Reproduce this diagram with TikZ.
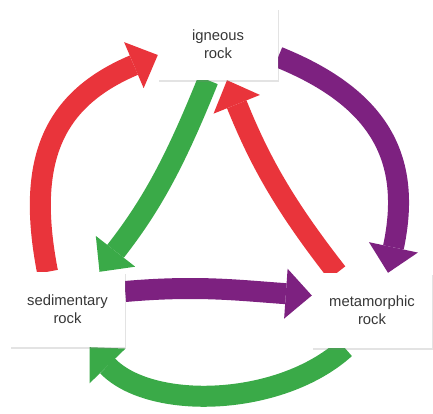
\documentclass[tikz,border=0pt]{standalone}
\usepackage{fontspec}
\setmainfont{Liberation Sans}
\definecolor{rockred}{RGB}{233, 52, 59}
\definecolor{rockpurple}{RGB}{125, 33, 128}
\definecolor{rockgreen}{RGB}{58, 170, 72}
\definecolor{rocktext}{RGB}{55, 55, 55}
\usetikzlibrary{arrows.meta, shadows, backgrounds, calc}

\begin{document}
\begin{tikzpicture}[x=1pt, y=1pt,
		rockbox/.style={fill=white, text=rocktext, align=center, inner sep=0pt,
			font=\fontsize{14.8}{18}\selectfont,
			drop shadow={opacity=0.22, shadow xshift=1pt, shadow yshift=-2.5pt}},
		band/.style={line width=21pt, -{Triangle[length=26pt, width=50pt, line width=0pt]}}]
			\useasboundingbox (0,0) rectangle (433,414);
			
			\node[rockbox, minimum width=120pt, minimum height=72pt] (ign) at (218,370) {igneous\\rock};
			\node[rockbox, minimum width=115pt, minimum height=75pt] (sed) at (67.5,104.5) {sedimentary\\rock};
			\node[rockbox, minimum width=120pt, minimum height=75pt] (met) at (372,103.5) {metamorphic\\rock};
			
			\begin{pgfonlayer}{background}
				% outer ring
				\draw[band, rockred] ([xshift=-20pt]sed.north) to[out=101, in=203, looseness=1.2] ([yshift=-11pt]ign.west);
				\draw[band, rockpurple] ([yshift=-13pt]ign.east) to[out=-22, in=78, looseness=1.2] ([xshift=16pt]met.north);
				\draw[band, rockgreen] ([xshift=-27pt]met.south) to[out=-138, in=-46, looseness=0.88] ([xshift=22pt]sed.south);
				% inner triangle
				\draw[band, rockgreen] ([xshift=-10pt]ign.south) to[out=-112, in=52] ([xshift=32pt]sed.north);
				\draw[band, rockred] ([xshift=-35pt]met.north) to[out=128, in=-68] ([xshift=9pt]ign.south);
				\draw[band, rockpurple] ([yshift=18pt]sed.east) to[out=5, in=176] ([yshift=15pt]met.west);
			\end{pgfonlayer}
		\end{tikzpicture}
\end{document}
